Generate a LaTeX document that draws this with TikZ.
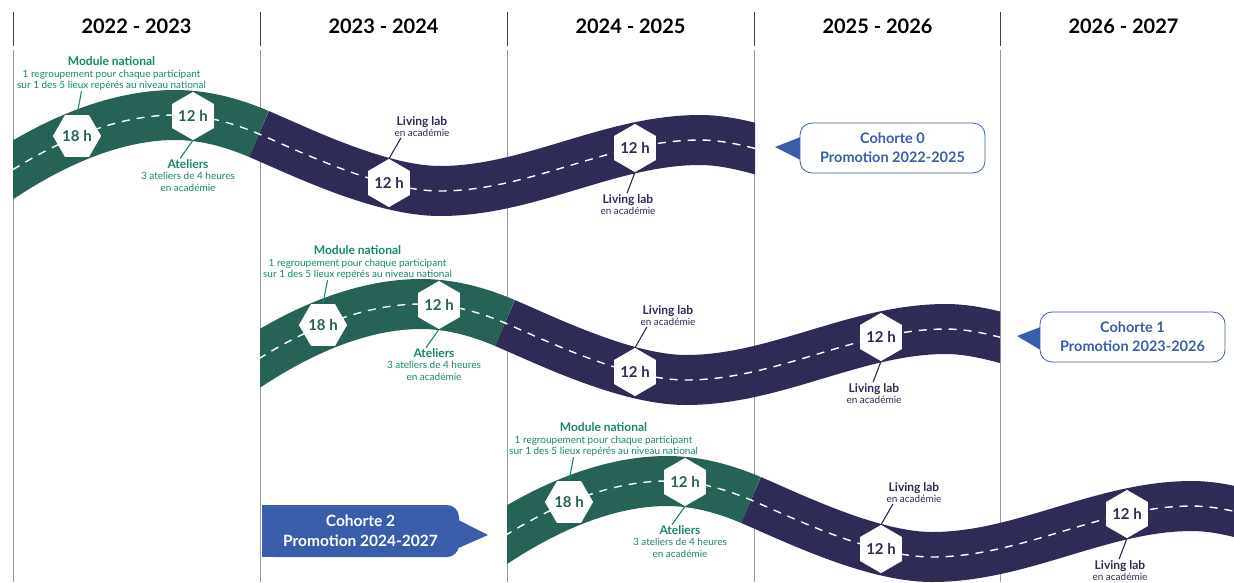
\documentclass[tikz,border=0pt]{standalone}
\usepackage{fontspec}
\setmainfont{Lato}
\usetikzlibrary{shapes.geometric}
\definecolor{roadgreen}{HTML}{266356}
\definecolor{roadpurple}{HTML}{2E2B56}
\definecolor{labgreen}{HTML}{16876D}
\definecolor{cohblue}{HTML}{3A5DAB}

\tikzset{
	hexa/.style={regular polygon, regular polygon sides=6, fill=white, minimum size=42pt, inner sep=0pt, font=\bfseries\fontsize{15}{15}\selectfont},
	road/.style={line width=50pt},
	lane/.style={white, line width=1.4pt, dash pattern=on 8pt off 7pt},
	lbl/.style={align=center, inner sep=1pt, font=\fontsize{10}{11.2}\selectfont},
	lead/.style={line width=1.1pt},
	cohorte/.style={align=center, font=\bfseries\fontsize{14.5}{19}\selectfont, rounded corners=12pt, line width=0.8pt},
	year/.style={font=\bfseries\fontsize{20}{20}\selectfont}
}
\newcommand{\ttl}[1]{\textbf{\fontsize{12}{12}\selectfont #1}}

% one cohort: shift x, shift y, clip left, clip right
\newcommand{\roadrow}[4]{%
	\begin{scope}[shift={(#1,#2)}]
		\begin{scope}
			\clip (#3,0) rectangle (#4,300);
			\draw[road, roadpurple] (259,134) .. controls (299,151) and (380,191) .. (440,191)
				.. controls (530,191) and (610,140) .. (700,140) .. controls (730,140) and (760,150) .. (790,158);
			\draw[road, roadgreen] (0,178) .. controls (60,138) and (120,115) .. (175,115)
				.. controls (210,115) and (240,126) .. (259,134);
			\draw[lane] (0,178) .. controls (60,138) and (120,115) .. (175,115)
				.. controls (210,115) and (240,126) .. (259,134) .. controls (299,151) and (380,191) .. (440,191)
				.. controls (530,191) and (610,140) .. (700,140) .. controls (730,140) and (760,150) .. (790,158);
		\end{scope}
		\node[hexa, text=roadgreen] (h18) at (77,136) {18 h};
		\node[hexa, text=roadgreen, shape border rotate=30] (h12a) at (193,116) {12 h};
		\node[hexa, text=roadpurple, shape border rotate=30] (h12b) at (389,183) {12 h};
		\node[hexa, text=roadpurple, shape border rotate=30] (h12c) at (635,148) {12 h};
		\node[lbl, text=labgreen] (mod) at (111.5,73.5) {\ttl{Module national}\\1 regroupement pour chaque participant\\sur 1 des 5 lieux repérés au niveau national};
		\node[lbl, text=labgreen] (ate) at (188,175.5) {\ttl{Ateliers}\\3 ateliers de 4 heures\\en académie};
		\node[lbl, text=roadpurple] (ll1) at (422,126.5) {\ttl{Living lab}\\en académie};
		\node[lbl, text=roadpurple] (ll2) at (628,204.5) {\ttl{Living lab}\\en académie};
		\draw[lead, labgreen] (h18.north) -- ([xshift=-30pt]mod.south);
		\draw[lead, labgreen] (h12a.south) -- ([xshift=-8pt]ate.north);
		\draw[lead, roadpurple] (h12b.north) -- ([xshift=-21pt]ll1.south);
		\draw[lead, roadpurple] (h12c.south) -- ([xshift=-1pt]ll2.north);
	\end{scope}
}

\begin{document}
\begin{tikzpicture}[x=1pt, y=-1pt]
	\useasboundingbox (0,0) rectangle (1234,582);
	% years
	\foreach \xa/\yr in {13/2022 - 2023, 260/2023 - 2024, 507/2024 - 2025, 754/2025 - 2026, 1000/2026 - 2027} {
		\draw[black!75, line width=1pt] (\xa,12) -- (\xa,46);
		\draw[black!40, line width=0.8pt] (\xa,50) -- (\xa,582);
		\node[year] (y\xa) at (\xa+123.5,26) {\yr};
	}

	\roadrow{0}{0}{13}{755}
	\roadrow{246}{189}{14}{754}
	\roadrow{492}{366}{15}{742}

	% cohortes
	\coordinate (tip0) at (775,147);
	\node[cohorte, minimum width=185pt, minimum height=50pt] (c0) at (892.5,148) {};
	\fill[cohblue] ([xshift=1pt, yshift=11pt]c0.west) -- (tip0) -- ([xshift=1pt, yshift=-12pt]c0.west) -- cycle;
	\node[cohorte, draw=cohblue, fill=white, text=cohblue, minimum width=185pt, minimum height=50pt] at (c0) {Cohorte 0\\Promotion 2022-2025};

	\coordinate (tip1) at (1017,336);
	\node[cohorte, minimum width=185pt, minimum height=50pt] (c1) at (1132.5,337) {};
	\fill[cohblue] ([xshift=1pt, yshift=10pt]c1.west) -- (tip1) -- ([xshift=1pt, yshift=-13pt]c1.west) -- cycle;
	\node[cohorte, draw=cohblue, fill=white, text=cohblue, minimum width=185pt, minimum height=50pt] at (c1) {Cohorte 1\\Promotion 2023-2026};

	\coordinate (tip2) at (488,535);
	\node[cohorte, fill=cohblue, text=white, font=\bfseries\fontsize{15.5}{20}\selectfont, minimum width=197pt, minimum height=52pt] (c2) at (360.5,531) {Cohorte 2\\Promotion 2024-2027};
	\fill[cohblue] (c2.north west) rectangle ([xshift=14pt]c2.south west);
	\fill[cohblue] ([xshift=-1pt, yshift=11pt]c2.east) -- (tip2) -- ([xshift=-1pt, yshift=-17pt]c2.east) -- cycle;
\end{tikzpicture}
\end{document}
